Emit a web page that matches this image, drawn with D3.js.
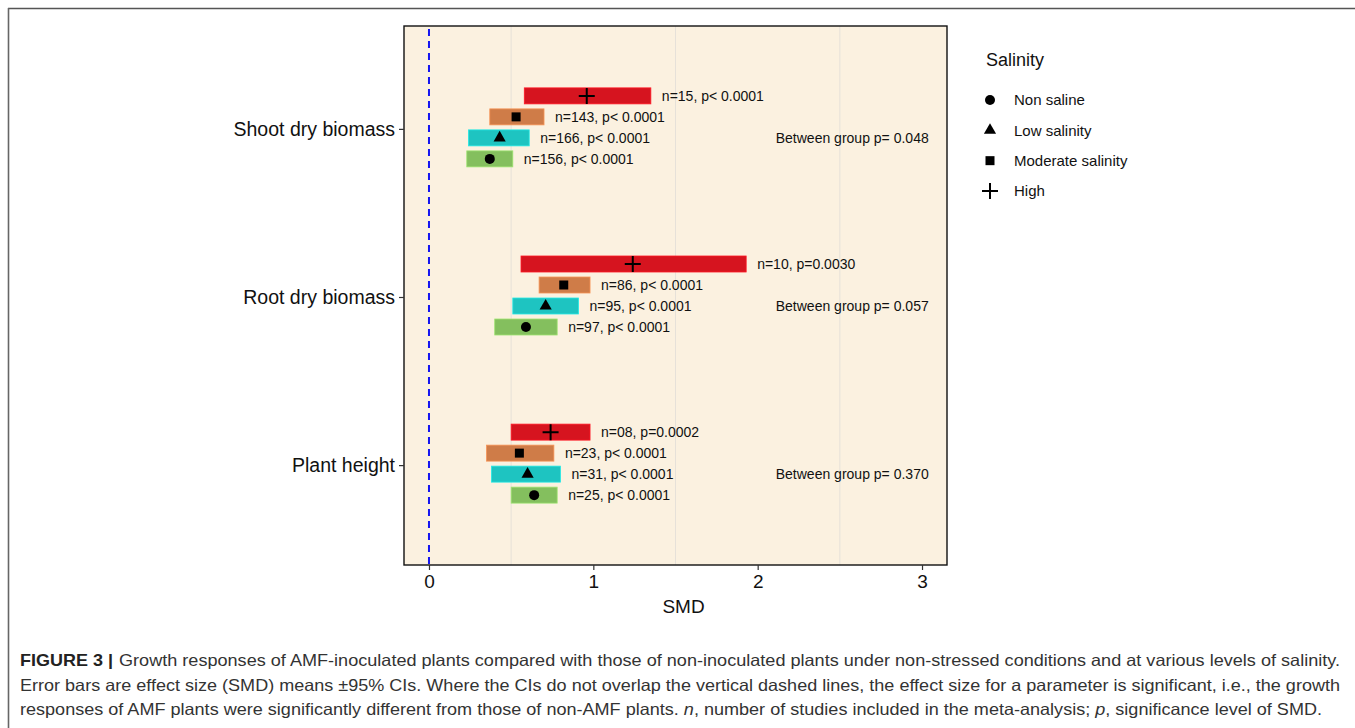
<!DOCTYPE html>
<html>
<head>
<meta charset="utf-8">
<script src="https://cdn.jsdelivr.net/npm/d3@7"></script>
<style>
  html, body { margin: 0; padding: 0; background: #fff; }
  svg { display: block; }
</style>
</head>
<body>
<svg id="chart" width="1355" height="728"></svg>
<script>
// ---------------- DATA ----------------
const categories = ["Shoot dry biomass", "Root dry biomass", "Plant height"];
const salinity = ["Non saline", "Low salinity", "Moderate salinity", "High"];
const rowOrder = ["High", "Moderate salinity", "Low salinity", "Non saline"];

// values in salinity order: Non saline, Low, Moderate, High
const shootLower = [0.23, 0.24, 0.37, 0.58];
const shootMean  = [0.37, 0.43, 0.53, 0.96];
const shootUpper = [0.51, 0.61, 0.70, 1.35];
const shootLabel = ["n=156, p< 0.0001", "n=166, p< 0.0001", "n=143, p< 0.0001", "n=15, p< 0.0001"];

const rootLower = [0.40, 0.51, 0.67, 0.56];
const rootMean  = [0.59, 0.71, 0.82, 1.24];
const rootUpper = [0.78, 0.91, 0.98, 1.93];
const rootLabel = ["n=97, p< 0.0001", "n=95, p< 0.0001", "n=86, p< 0.0001", "n=10, p=0.0030"];

const heightLower = [0.50, 0.38, 0.35, 0.50];
const heightMean  = [0.64, 0.60, 0.55, 0.74];
const heightUpper = [0.78, 0.80, 0.76, 0.98];
const heightLabel = ["n=25, p< 0.0001", "n=31, p< 0.0001", "n=23, p< 0.0001", "n=08, p=0.0002"];

const betweenGroup = ["Between group p= 0.048", "Between group p= 0.057", "Between group p= 0.370"];
const xTicks = [0, 1, 2, 3];
const xGrid = [0.5, 1.5, 2.5];
const xDomain = [-0.152, 3.152];

// ---------------- STYLE ----------------
const colors = { "Non saline": "#84BF5E", "Low salinity": "#1EC4C1", "Moderate salinity": "#CF7C48", "High": "#D6141F" };
const FONT = "'Liberation Sans', Arial, Helvetica, sans-serif";

const svg = d3.select("#chart");

// outer figure frame (top and left rules)
svg.append("line").attr("x1", 8).attr("x2", 1355).attr("y1", 8.5).attr("y2", 8.5)
  .attr("stroke", "#555").attr("stroke-width", 1.6);
svg.append("line").attr("x1", 8.5).attr("x2", 8.5).attr("y1", 8).attr("y2", 728)
  .attr("stroke", "#666").attr("stroke-width", 1.6);

const panel = { left: 404, right: 947, top: 26, bottom: 565 };

const x = d3.scaleLinear().domain(xDomain).range([panel.left, panel.right]);
const y = d3.scalePoint().domain(categories).range([panel.top + 2, panel.bottom + 1]).padding(0.6);
const rowOff = d3.scalePoint().domain(rowOrder).range([-33, 30]);

// panel background
svg.append("rect")
  .attr("x", panel.left).attr("y", panel.top)
  .attr("width", panel.right - panel.left).attr("height", panel.bottom - panel.top)
  .attr("fill", "#FBF1E0");

// grid lines
svg.append("g").selectAll("line").data(xGrid).join("line")
  .attr("x1", d => x(d)).attr("x2", d => x(d))
  .attr("y1", panel.top).attr("y2", panel.bottom)
  .attr("stroke", "#E6E1D9").attr("stroke-width", 1);

// zero dashed line
svg.append("line")
  .attr("x1", x(0)).attr("x2", x(0)).attr("y1", panel.top + 3).attr("y2", panel.bottom)
  .attr("stroke", "#1515F0").attr("stroke-width", 2).attr("stroke-dasharray", "7,5");

// build rows
const groups = [
  { cat: categories[0], lo: shootLower, m: shootMean, hi: shootUpper, lab: shootLabel },
  { cat: categories[1], lo: rootLower, m: rootMean, hi: rootUpper, lab: rootLabel },
  { cat: categories[2], lo: heightLower, m: heightMean, hi: heightUpper, lab: heightLabel }
];
const rows = [];
groups.forEach(g => salinity.forEach((s, i) => rows.push({
  cat: g.cat, sal: s, lo: g.lo[i], m: g.m[i], hi: g.hi[i], lab: g.lab[i]
})));
const rowY = d => y(d.cat) + rowOff(d.sal);

const barH = 16;
const plot = svg.append("g");
plot.selectAll("rect.bar").data(rows).join("rect")
  .attr("class", "bar")
  .attr("x", d => x(d.lo)).attr("width", d => x(d.hi) - x(d.lo))
  .attr("y", d => rowY(d) - barH / 2).attr("height", barH)
  .attr("fill", d => colors[d.sal])
  .attr("stroke", d => d3.color(colors[d.sal]).brighter(0.5)).attr("stroke-width", 0.8);

// symbols
function drawSymbol(sel, sal) {
  if (sal === "Non saline") {
    sel.append("circle").attr("r", 5).attr("fill", "#000");
  } else if (sal === "Low salinity") {
    sel.append("path").attr("d", d3.symbol(d3.symbolTriangle, 64)()).attr("fill", "#000");
  } else if (sal === "Moderate salinity") {
    sel.append("rect").attr("x", -4.5).attr("y", -4.5).attr("width", 9).attr("height", 9).attr("fill", "#000");
  } else {
    sel.append("path").attr("d", "M-8,0H8M0,-8V8").attr("stroke", "#000").attr("stroke-width", 2).attr("fill", "none");
  }
}
plot.selectAll("g.pt").data(rows).join("g")
  .attr("class", "pt")
  .attr("transform", d => `translate(${x(d.m)},${rowY(d)})`)
  .each(function(d) { drawSymbol(d3.select(this), d.sal); });

// n/p labels
plot.selectAll("text.lab").data(rows).join("text")
  .attr("class", "lab")
  .attr("x", d => x(d.hi) + 11).attr("y", d => rowY(d))
  .attr("dy", "0.36em")
  .attr("font-family", FONT).attr("font-size", 14).attr("fill", "#111")
  .text(d => d.lab);

// between-group labels
plot.selectAll("text.bg").data(categories).join("text")
  .attr("class", "bg")
  .attr("x", x(2.11)).attr("y", (d, i) => y(d) + 9)
  .attr("dy", "0.36em")
  .attr("font-family", FONT).attr("font-size", 14).attr("fill", "#111")
  .text((d, i) => betweenGroup[i]);

// panel border
svg.append("rect")
  .attr("x", panel.left).attr("y", panel.top)
  .attr("width", panel.right - panel.left).attr("height", panel.bottom - panel.top)
  .attr("fill", "none").attr("stroke", "#111").attr("stroke-width", 1.4);

// x axis
const xAxis = svg.append("g").attr("transform", `translate(0,${panel.bottom})`)
  .call(d3.axisBottom(x).tickValues(xTicks).tickFormat(d3.format("d")).tickSize(5).tickPadding(5));
xAxis.select(".domain").remove();
xAxis.selectAll(".tick line").attr("stroke", "#333").attr("stroke-width", 1.2);
xAxis.selectAll(".tick text").attr("font-family", FONT).attr("font-size", 19).attr("fill", "#111");

// y axis
const yAxis = svg.append("g").attr("transform", `translate(${panel.left},0)`)
  .call(d3.axisLeft(y).tickSize(5).tickPadding(4));
yAxis.select(".domain").remove();
yAxis.selectAll(".tick line").attr("stroke", "#333").attr("stroke-width", 1.2);
yAxis.selectAll(".tick text").attr("font-family", FONT).attr("font-size", 19.5).attr("fill", "#111");

// x title
svg.append("text")
  .attr("x", (x(0) + x(3)) / 2 + 8).attr("y", 613)
  .attr("text-anchor", "middle")
  .attr("font-family", FONT).attr("font-size", 19).attr("fill", "#111")
  .text("SMD");

// legend
const legend = svg.append("g");
legend.append("text").attr("x", 986).attr("y", 66)
  .attr("font-family", FONT).attr("font-size", 18).attr("fill", "#111").text("Salinity");
const legY = d3.scalePoint().domain(salinity).range([100, 191]);
const li = legend.selectAll("g.li").data(salinity).join("g")
  .attr("class", "li").attr("transform", d => `translate(990,${legY(d)})`);
li.each(function(d) { drawSymbol(d3.select(this), d); });
li.append("text").attr("x", 24).attr("dy", "0.36em")
  .attr("font-family", FONT).attr("font-size", 15).attr("fill", "#111").text(d => d);

// caption
const CAP = "'Liberation Sans', Arial, Helvetica, sans-serif";
const cap = svg.append("g").attr("font-family", CAP).attr("font-size", 16.5).attr("fill", "#333");
cap.append("text").attr("x", 20).attr("y", 666).attr("font-weight", "bold").attr("fill", "#222")
  .attr("textLength", 93).attr("lengthAdjust", "spacingAndGlyphs")
  .text("FIGURE 3 |");
cap.append("text").attr("x", 119).attr("y", 666)
  .attr("textLength", 1221).attr("lengthAdjust", "spacingAndGlyphs")
  .text("Growth responses of AMF-inoculated plants compared with those of non-inoculated plants under non-stressed conditions and at various levels of salinity.");
cap.append("text").attr("x", 20).attr("y", 691)
  .attr("textLength", 1320).attr("lengthAdjust", "spacingAndGlyphs")
  .text("Error bars are effect size (SMD) means \u00B195% CIs. Where the CIs do not overlap the vertical dashed lines, the effect size for a parameter is significant, i.e., the growth");
const l3 = cap.append("text").attr("x", 20).attr("y", 715)
  .attr("textLength", 1302).attr("lengthAdjust", "spacingAndGlyphs");
l3.append("tspan").text("responses of AMF plants were significantly different from those of non-AMF plants. ");
l3.append("tspan").attr("font-style", "italic").text("n");
l3.append("tspan").text(", number of studies included in the meta-analysis; ");
l3.append("tspan").attr("font-style", "italic").text("p");
l3.append("tspan").text(", significance level of SMD.");
</script>
</body>
</html>
